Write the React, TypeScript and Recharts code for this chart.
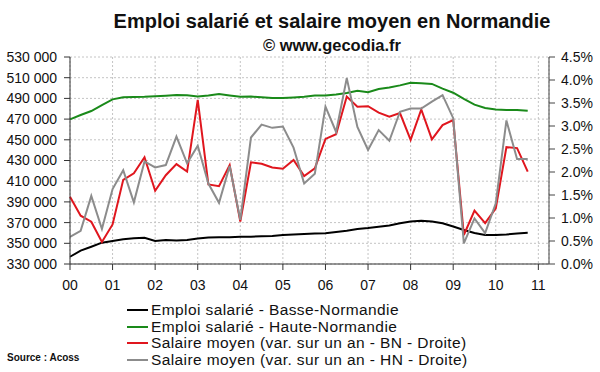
import React from "react";
import { LineChart, Line, XAxis, YAxis, CartesianGrid, Legend } from "recharts";

// Quarterly series, 2000 Q1 -> 2010 Q4
const emploiBN = [
  337000, 342900, 346700, 350600, 352200, 353900, 354800, 355400, 352200, 353200, 352700,
  353200, 354600, 355600, 355800, 355800, 356400, 356400, 356800, 357100, 358000, 358500,
  359000, 359500, 359700, 360900, 362200, 363800, 364800, 366100, 367300, 369300, 371100,
  371900, 371100, 369300, 366200, 362800, 359900, 358000, 358000, 358500, 359500, 360200,
];
const emploiHN = [
  469800, 474000, 477800, 483600, 489100, 491000, 491400, 491600, 492100, 492600, 493300,
  493100, 491800, 492800, 494200, 492800, 491600, 491800, 491000, 490400, 490400, 490900,
  491600, 492800, 492800, 493800, 495200, 497400, 495900, 499000, 500500, 502600, 505000,
  504600, 504000, 499500, 495500, 489600, 484000, 480700, 479300, 478800, 478800, 478100,
];
const salaireBN = [
  1.46, 1.05, 0.92, 0.48, 0.86, 1.83, 1.97, 2.32, 1.59, 1.93, 2.17, 2.01, 3.57, 1.73, 1.69,
  2.15, 0.92, 2.21, 2.18, 2.1, 2.07, 2.26, 1.91, 2.08, 2.72, 2.82, 3.64, 3.42, 3.43, 3.29,
  3.2, 3.28, 2.7, 3.36, 2.71, 3.02, 3.13, 0.63, 1.16, 0.89, 1.21, 2.54, 2.52, 2.01,
];
const salaireHN = [
  0.59, 0.72, 1.48, 0.76, 1.63, 2.04, 1.34, 2.23, 2.1, 2.15, 2.77, 2.19, 2.57, 1.75, 1.33,
  2.13, 0.96, 2.75, 3.03, 2.96, 2.99, 2.53, 1.75, 1.96, 3.42, 2.87, 4.04, 2.98, 2.48, 2.91,
  2.68, 3.31, 3.38, 3.38, 3.53, 3.67, 3.17, 0.45, 0.99, 0.67, 1.32, 3.12, 2.28, 2.28,
];

const yearTicks = [0, 1, 2, 3, 4, 5, 6, 7, 8, 9, 10, 11];
const yearLabels = ["00", "01", "02", "03", "04", "05", "06", "07", "08", "09", "10", "11"];
const leftTicks = [330000, 350000, 370000, 390000, 410000, 430000, 450000, 470000, 490000, 510000, 530000];
const rightTicks = [0, 0.5, 1, 1.5, 2, 2.5, 3, 3.5, 4, 4.5];

const seriesNames = [
  "Emploi salarié - Basse-Normandie",
  "Emploi salarié - Haute-Normandie",
  "Salaire moyen (var. sur un an - BN - Droite)",
  "Salaire moyen (var. sur un an - HN - Droite)",
];
const seriesColors = ["#000000", "#1a8a1a", "#e0161e", "#8c8c8c"];

const data = emploiBN.map((v, i) => ({
  t: i / 4,
  ebn: v,
  ehn: emploiHN[i],
  sbn: salaireBN[i],
  shn: salaireHN[i],
}));

const FONT = "'Liberation Sans', Arial, sans-serif";

const LegendBox = () => (
  <div style={{ fontFamily: FONT, fontSize: 15.5, lineHeight: "16.5px", letterSpacing: 0.4, color: "#111" }}>
    {seriesNames.map((n, i) => (
      <div key={n} style={{ display: "flex", alignItems: "center", height: 16.5, whiteSpace: "nowrap" }}>
        <svg width={24} height={16} style={{ display: "block" }}>
          <line x1={0} x2={21} y1={8} y2={8} stroke={seriesColors[i]} strokeWidth={2} />
        </svg>
        <span>{n}</span>
      </div>
    ))}
  </div>
);

export default function App() {
  const tickStyle = { fontFamily: FONT, fontSize: 14, fill: "#111" };
  return (
    <div style={{ position: "absolute", left: 0, top: 0, width: 600, height: 372, background: "#fff" }}>
      <LineChart
        width={600}
        height={372}
        data={data}
        margin={{ top: 57, right: 0, bottom: 0, left: 0 }}
      >
        <CartesianGrid yAxisId="l" stroke="#c4c4c4" strokeDasharray="2 2" />
        <XAxis
          dataKey="t"
          type="number"
          domain={[0, 11.25]}
          ticks={yearTicks}
          tickFormatter={(v: number) => yearLabels[v]}
          height={108}
          tickSize={6}
          tickMargin={10}
          stroke="#333"
          tick={tickStyle}
          interval={0}
        />
        <YAxis
          yAxisId="l"
          domain={[330000, 530000]}
          ticks={leftTicks}
          tickFormatter={(v: number) => `${Math.round(v / 1000)} 000`}
          width={70}
          tickSize={6}
          tickMargin={7}
          stroke="#333"
          tick={tickStyle}
          interval={0}
        />
        <YAxis
          yAxisId="r"
          orientation="right"
          domain={[0, 4.5]}
          ticks={rightTicks}
          tickFormatter={(v: number) => `${v.toFixed(1)}%`}
          width={51}
          tickSize={6}
          tickMargin={6}
          stroke="#444"
          tick={tickStyle}
          interval={0}
        />
        <Line yAxisId="l" dataKey="ebn" name={seriesNames[0]} stroke={seriesColors[0]} strokeWidth={2} dot={false} isAnimationActive={false} />
        <Line yAxisId="l" dataKey="ehn" name={seriesNames[1]} stroke={seriesColors[1]} strokeWidth={2} dot={false} isAnimationActive={false} />
        <Line yAxisId="r" dataKey="sbn" name={seriesNames[2]} stroke={seriesColors[2]} strokeWidth={2} dot={false} isAnimationActive={false} />
        <Line yAxisId="r" dataKey="shn" name={seriesNames[3]} stroke={seriesColors[3]} strokeWidth={2} dot={false} isAnimationActive={false} />
        <Legend
          layout="vertical"
          align="center"
          verticalAlign="middle"
          content={() => <LegendBox />}
          wrapperStyle={{ left: 127, top: 302, width: 400, height: 66 }}
        />
      </LineChart>
      <svg
        width={600}
        height={372}
        style={{ position: "absolute", left: 0, top: 0, pointerEvents: "none" }}
      >
        <text x={332} y={28} textAnchor="middle" fontFamily={FONT} fontWeight="bold" fontSize={20} fill="#111">
          Emploi salarié et salaire moyen en Normandie
        </text>
        <text x={332} y={51} textAnchor="middle" fontFamily={FONT} fontWeight="bold" fontSize={16.5} fill="#111">
          © www.gecodia.fr
        </text>
        <text x={7} y={361} fontFamily={FONT} fontWeight="bold" fontSize={10} fill="#111">
          Source : Acoss
        </text>
      </svg>
    </div>
  );
}
